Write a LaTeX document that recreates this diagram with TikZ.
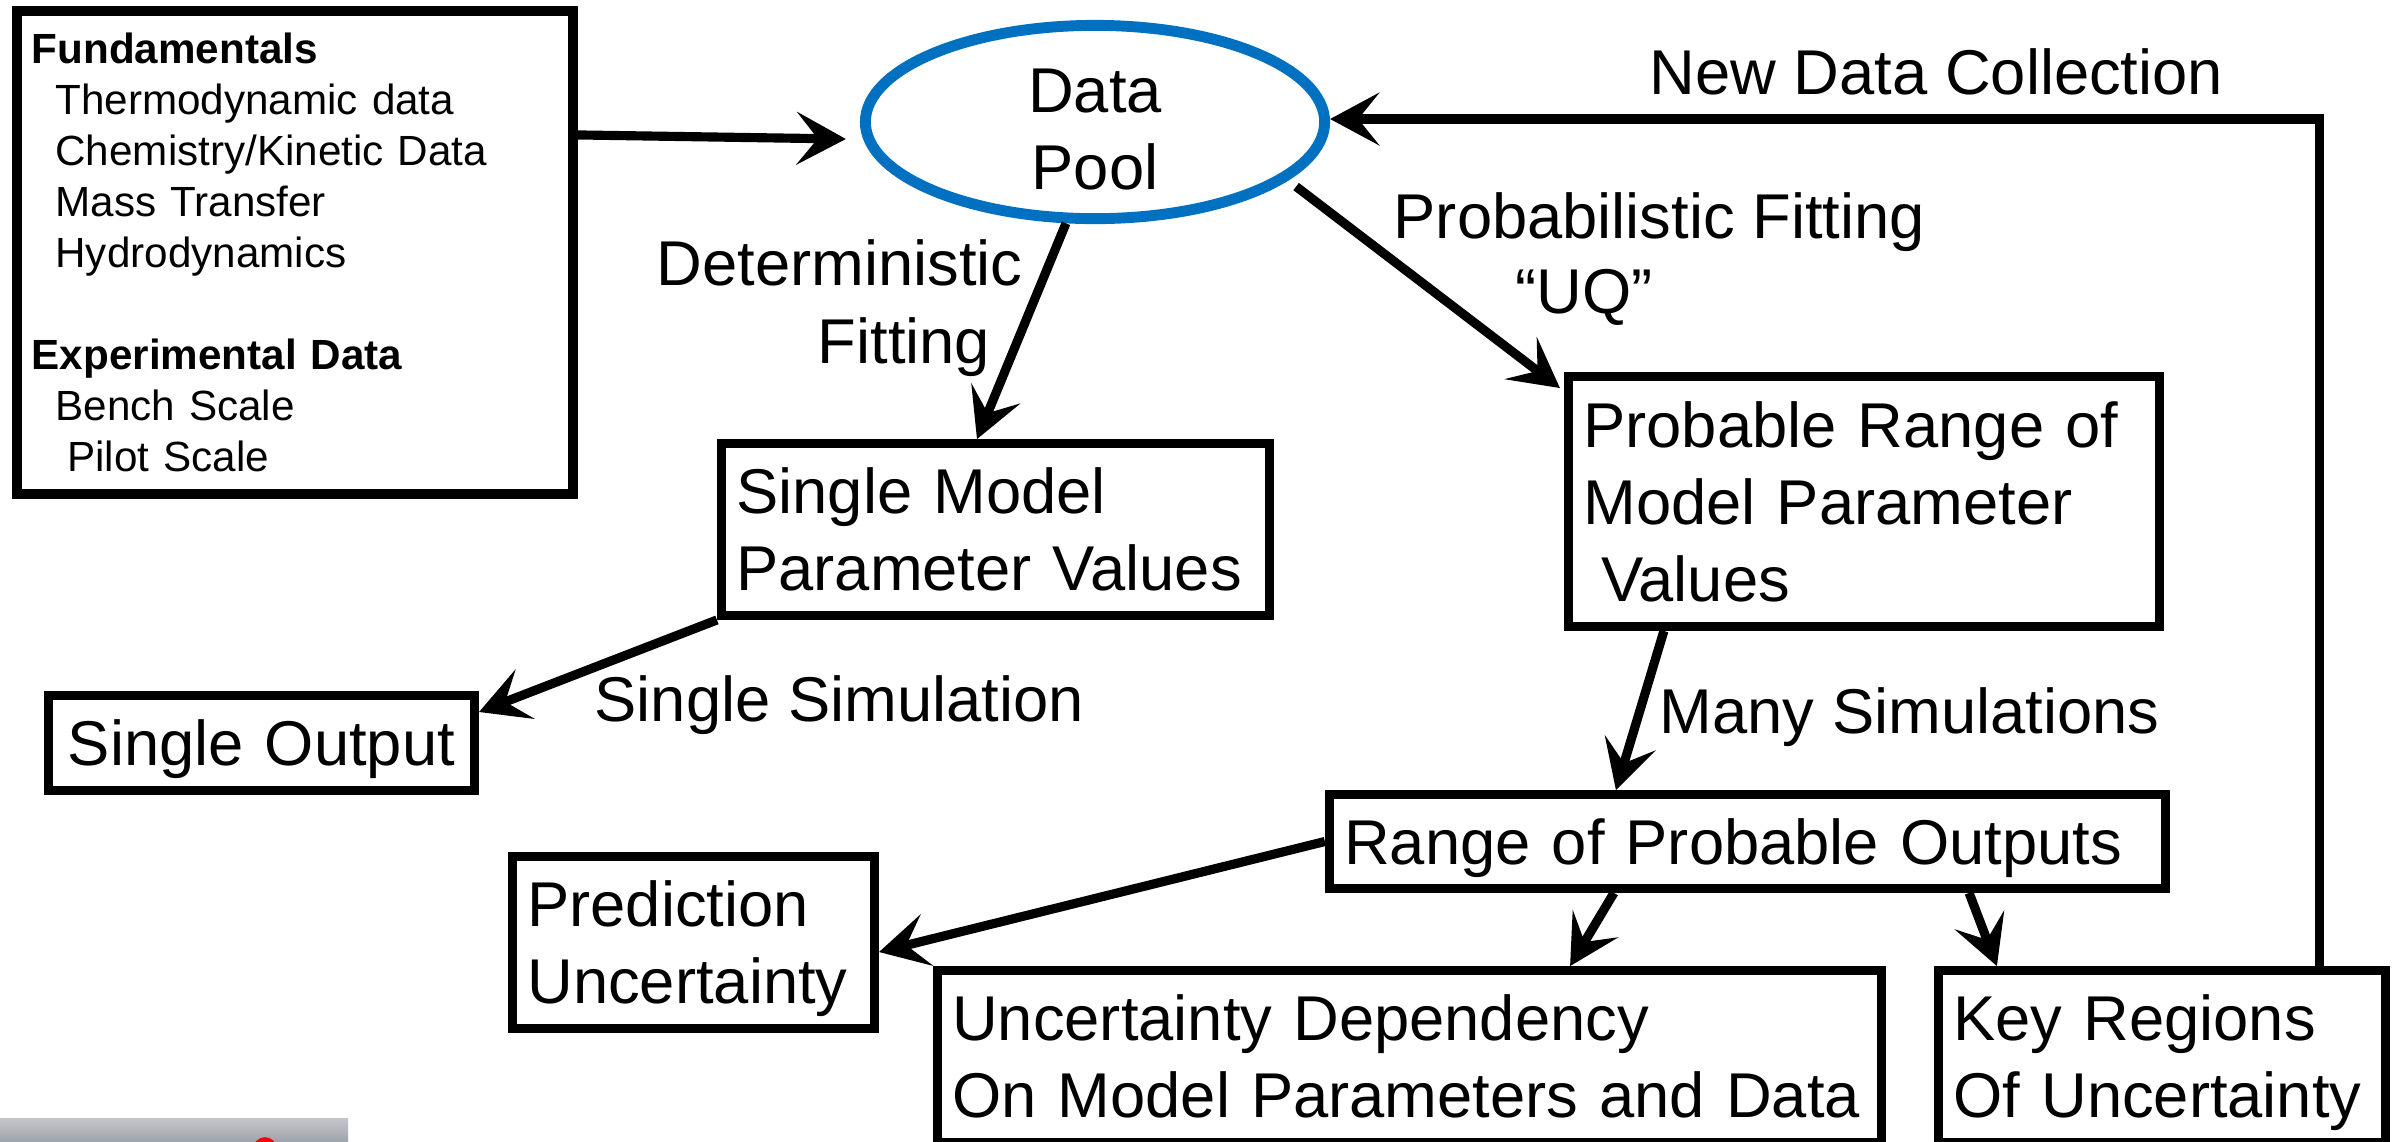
\documentclass[tikz,border=0pt]{standalone}
\usepackage{fontspec}
\setmainfont{Liberation Sans}
\usetikzlibrary{arrows.meta,shapes.geometric}
\definecolor{poolblue}{HTML}{0070C0}
\definecolor{bartop}{HTML}{C5C6CB}
\definecolor{barbot}{HTML}{9FA5AC}
\newcommand\nodp[1]{\raisebox{0pt}[\height][0pt]{#1}}
\begin{document}
\begin{tikzpicture}[x=0.01cm,y=-0.01cm,
  big/.style={font=\fontsize{18.0pt}{21.9pt}\selectfont},
  small/.style={font=\fontsize{12.0pt}{14.5pt}\selectfont},
  box/.style={draw, line width=2.5pt, big, inner xsep=0.15cm, inner ysep=0pt, align=left},
  arr/.style={line width=2.6pt, -{Stealth[length=14pt,width=15pt,inset=6pt]}},
  lbl/.style={big, anchor=base west, inner sep=0pt}]

\useasboundingbox (0,0) rectangle (2402,1141);
\clip (0,0) rectangle (2402,1141);

% boxes
\node[draw, line width=2.8pt, small, inner xsep=0.15cm, inner ysep=0pt, align=left,
      minimum width=5.56cm, minimum height=4.83cm, text width=5.26cm] (fund) at (295,252.5)
  {\textbf{Fundamentals}\\
   \hspace*{0.236cm}Thermodynamic data\\
   \hspace*{0.236cm}Chemistry/Kinetic Data\\
   \hspace*{0.236cm}Mass Transfer\\
   \hspace*{0.236cm}Hydrodynamics\\[14.5pt]
   \textbf{Experimental Data}\\
   \hspace*{0.236cm}Bench Scale\\
   \hspace*{0.354cm}Pilot Scale};

\node[ellipse, draw=poolblue, line width=3.1pt, big, align=center, inner sep=0pt,
      minimum width=4.59cm, minimum height=1.90cm] (pool) at (1095,122)
  {\raisebox{0pt}[0.59cm][0pt]{Data}\\Pool};

\node[box, minimum width=5.48cm, minimum height=1.72cm, text width=5.18cm] (sm) at (995.5,529.5)
  {\mbox{Single Model}\\\mbox{Parameter Values}};
\node[box, align=center, minimum width=4.26cm, minimum height=0.95cm, text width=3.96cm] (so) at (261.5,743)
  {\nodp{\mbox{Single Output}}};
\node[box, minimum width=5.91cm, minimum height=2.50cm, text width=5.61cm] (pr) at (1864,501.5)
  {\mbox{Probable Range of}\\\mbox{Model Parameter}\\\hspace*{0.178cm}Values};
\node[box, minimum width=8.36cm, minimum height=0.94cm, text width=8.06cm] (rpo) at (1747.5,841.5)
  {\nodp{\mbox{Range of Probable Outputs}}};
\node[box, minimum width=3.62cm, minimum height=1.72cm, text width=3.32cm] (pu) at (693.5,942.5)
  {Prediction\\\nodp{Uncertainty}};
\node[box, minimum width=9.44cm, minimum height=1.72cm, text width=9.14cm] (ud) at (1409.5,1056.5)
  {\mbox{Uncertainty Dependency}\\\mbox{On Model Parameters and Data}};
\node[box, minimum width=4.47cm, minimum height=1.72cm, text width=4.17cm] (kr) at (2162,1056.5)
  {\mbox{Key Regions}\\\nodp{\mbox{Of Uncertainty}}};

% labels
\node[lbl] (det1) at (656,285) {Deterministic};
\node[lbl] (det2) at (817,363) {Fitting};
\node[lbl] (prob1) at (1393,238) {Probabilistic Fitting};
\node[lbl] (prob2) at (1515,313) {“UQ”};
\node[lbl] (newdata) at (1649,94.5) {New Data Collection};
\node[lbl] (singsim) at (594,721) {Single Simulation};
\node[lbl] (manysim) at (1659,733) {Many Simulations};

% connectors
\draw[arr] ([yshift=1.175cm]fund.east) -- ([xshift=-0.14cm,yshift=-0.17cm]pool.west);
\draw[arr] (pool.254) -- ([xshift=-0.185cm]sm.north);
\draw[arr] ([xshift=2.01cm,yshift=-0.645cm]pool.center) -- ([xshift=-0.04cm,yshift=-0.16cm]pr.north west);
\draw[arr] ([xshift=1.57cm]kr.north) |- ([yshift=0.03cm]pool.east);
\draw[arr] (sm.south west) -- ([yshift=0.31cm]so.east);
\draw[arr] ([xshift=-2cm]pr.south) -- ([xshift=-1.315cm]rpo.north);
\draw[arr] (rpo.west) -- ([yshift=-0.095cm]pu.east);
\draw[arr] ([xshift=-1.335cm]rpo.south) -- ([xshift=1.605cm]ud.north);
\draw[arr] ([xshift=2.215cm]rpo.south) -- ([xshift=-1.65cm]kr.north);

% cropped bar at bottom left
\shade[top color=bartop, bottom color=barbot] (0,1118) rectangle (348,1141);
\draw[red, line width=1.6pt] (265,1149) circle [radius=0.09cm];
\end{tikzpicture}
\end{document}
